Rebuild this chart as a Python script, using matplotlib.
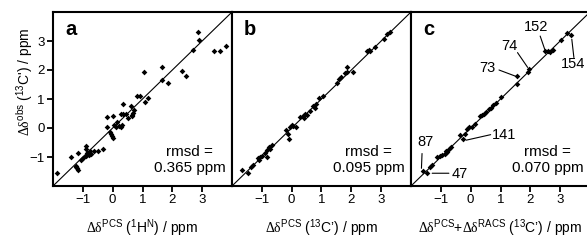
import matplotlib
matplotlib.use("Agg")
import matplotlib.pyplot as plt
import numpy as np

plt.rcParams['font.family'] = ['Liberation Sans', 'DejaVu Sans']
plt.rcParams['mathtext.fontset'] = 'custom'
plt.rcParams['mathtext.rm'] = 'Liberation Sans'
plt.rcParams['mathtext.sf'] = 'Liberation Serif'
plt.rcParams['mathtext.it'] = 'Liberation Sans:italic'
plt.rcParams['mathtext.bf'] = 'Liberation Sans:bold'

# ---------------- data ----------------
a_x = [-1.86, -1.40, -1.17, -0.91, -0.91, -1.24, -1.20, -1.16, -1.22, -1.05, -0.98, -0.88,
       -0.85, -0.80, -0.76, -0.72, -0.62, -0.48, -0.32, -0.18, -0.18, -0.09, -0.05, -0.03,
       0.02, 0.02, 0.06, 0.10, 0.14, 0.20, 0.27, 0.30, 0.28, 0.36, 0.34, 0.45, 0.50, 0.60,
       0.65, 0.68, 0.70, 0.66, 0.83, 0.92, 1.06, 1.10, 1.20, 1.65, 1.66, 1.86, 2.34, 2.46,
       2.69, 2.87, 2.90, 3.41, 3.59, 3.80]
a_y = [-1.56, -0.99, -0.85, -0.61, -0.73, -1.31, -1.39, -1.45, -1.36, -1.10, -1.02, -0.98,
       -0.86, -0.92, -0.80, -0.88, -0.80, -0.79, -0.71, 0.03, 0.38, -0.14, -0.22, -0.28,
       -0.36, 0.43, 0.12, 0.05, 0.20, 0.08, 0.05, 0.10, 0.49, 0.49, 0.82, 0.49, 0.35, 0.77,
       0.45, 0.52, 0.62, 0.40, 1.10, 1.12, 1.93, 0.89, 1.04, 1.65, 2.12, 1.54, 1.95, 1.78,
       2.68, 3.30, 3.05, 2.64, 2.64, 2.83]

b_x = [-1.65, -1.46, -1.35, -1.30, -1.12, -1.07, -0.98, -1.10, -0.84, -0.76, -0.67, -0.82,
       -0.72, -0.90, -0.19, -0.13, -0.09, -0.06, 0.05, 0.14, 0.00, 0.28, 0.37, 0.45, 0.50,
       0.40, 0.60, 0.73, 0.82, 0.78, 0.90, 1.06, 1.52, 1.59, 1.65, 1.79, 1.85, 1.87, 2.05,
       2.53, 2.58, 2.64, 2.78, 3.10, 3.20, 3.28]
b_y = [-1.45, -1.56, -1.34, -1.28, -1.05, -0.99, -0.96, -1.12, -0.77, -0.65, -0.60, -0.99,
       -0.72, -0.85, -0.08, -0.20, -0.37, 0.02, 0.08, 0.05, 0.10, 0.38, 0.43, 0.49, 0.46,
       0.36, 0.58, 0.77, 0.83, 0.70, 1.03, 1.12, 1.54, 1.69, 1.77, 1.89, 1.92, 2.12, 1.94,
       2.64, 2.69, 2.64, 2.81, 3.06, 3.23, 3.32]

c_x = [-1.60, -1.46, -1.35, -1.29, -1.12, -1.04, -0.97, -0.86, -0.79, -0.73, -0.67, -0.82,
       -0.36, -0.25, -0.19, -0.11, -0.04, 0.04, 0.15, 0.32, 0.38, 0.45, 0.52, 0.60, 0.68,
       0.76, 0.85, 1.01, 1.55, 1.55, 1.91, 1.96, 2.50, 2.58, 2.67, 2.75, 3.03, 3.23, 3.37]
c_y = [-1.47, -1.56, -1.34, -1.28, -1.00, -0.98, -0.94, -0.88, -0.83, -0.74, -0.66, -0.78,
       -0.25, -0.37, -0.20, -0.03, 0.03, 0.05, 0.15, 0.40, 0.45, 0.50, 0.55, 0.65, 0.70,
       0.78, 0.87, 1.06, 1.52, 1.78, 1.94, 2.03, 2.66, 2.66, 2.62, 2.68, 3.04, 3.29, 3.20]

# residue labels in panel c: text, text position, line start, line end
c_labels = ['152', '74', '73', '154', '141', '87', '47']
c_label_pos = [(2.19, 3.49), (1.29, 2.83), (0.56, 2.06), (3.42, 2.20), (1.12, -0.25),
               (-1.52, -0.48), (-0.36, -1.60)]
c_line_from = [(2.33, 3.17), (1.57, 2.60), (0.95, 2.00), (3.46, 2.43), (0.67, -0.23),
               (-1.63, -0.88), (-0.73, -1.56)]
c_line_to = [(2.50, 2.66), (1.91, 2.09), (1.52, 1.78), (3.39, 3.06), (-0.15, -0.42),
             (-1.65, -1.39), (-1.29, -1.56)]

panel_letters = ['a', 'b', 'c']
rmsd_values = ['0.365 ppm', '0.095 ppm', '0.070 ppm']
xlabels = [r'$\mathsf{\Delta\delta}^{\mathrm{PCS}}$ ($^{\mathrm{1}}$H$^{\mathrm{N}}$) / ppm',
           r'$\mathsf{\Delta\delta}^{\mathrm{PCS}}$ ($^{\mathrm{13}}$C’) / ppm',
           r'$\mathsf{\Delta\delta}^{\mathrm{PCS}}$+$\mathsf{\Delta\delta}^{\mathrm{RACS}}$ ($^{\mathrm{13}}$C’) / ppm']
ylabel = r"$\mathsf{\Delta\delta}^{\mathrm{obs}}$ ($^{\mathrm{13}}$C') / ppm"
ticks = [-1, 0, 1, 2, 3]
lims = (-2, 4)

# ---------------- figure ----------------
W, H = 587, 240
fig = plt.figure(figsize=(W / 100, H / 100), dpi=100)
lefts = [53, 232, 411]
axes = []
for i, l in enumerate(lefts):
    ax = fig.add_axes([l / W, 54 / H, 179 / W, 174 / H])
    axes.append(ax)

datasets = [(a_x, a_y), (b_x, b_y), (c_x, c_y)]
for i, ax in enumerate(axes):
    x, y = datasets[i]
    ax.plot(lims, lims, color='black', lw=0.8, zorder=1)
    ax.plot(x, y, linestyle='none', marker='D', ms=2.9, color='black',
            markeredgewidth=0, zorder=2)
    ax.set_xlim(lims)
    ax.set_ylim(lims)
    ax.set_xticks(ticks)
    ax.set_yticks(ticks)
    for s in ax.spines.values():
        s.set_linewidth(1.5)
    ax.tick_params(direction='out', length=4, width=1.3, labelsize=9.5, pad=2,
                   top=False, right=False)
    if i > 0:
        ax.tick_params(left=False, labelleft=False)
    ax.text(0.067, 0.868, panel_letters[i], transform=ax.transAxes, fontsize=14.5,
            fontweight='bold', ha='left', va='baseline')
    ax.text(0.765, 0.195, 'rmsd =', transform=ax.transAxes, fontsize=11,
            ha='center', va='center')
    ax.text(0.765, 0.105, rmsd_values[i], transform=ax.transAxes, fontsize=11,
            ha='center', va='center')
    ax.text(0.5, -0.27, xlabels[i], transform=ax.transAxes, fontsize=10,
            ha='center', va='baseline')

axes[0].text(-0.128, 0.60, ylabel, transform=axes[0].transAxes, fontsize=10,
             rotation=90, rotation_mode='anchor', ha='center', va='baseline')

axc = axes[2]
for lab, pos, p0, p1 in zip(c_labels, c_label_pos, c_line_from, c_line_to):
    axc.annotate('', xy=p1, xytext=p0,
                 arrowprops=dict(arrowstyle='-', lw=0.8, color='black',
                                 shrinkA=0, shrinkB=0))
    axc.text(pos[0], pos[1], lab, fontsize=10.5, ha='center', va='center')

fig.savefig('out.png', dpi=100)
